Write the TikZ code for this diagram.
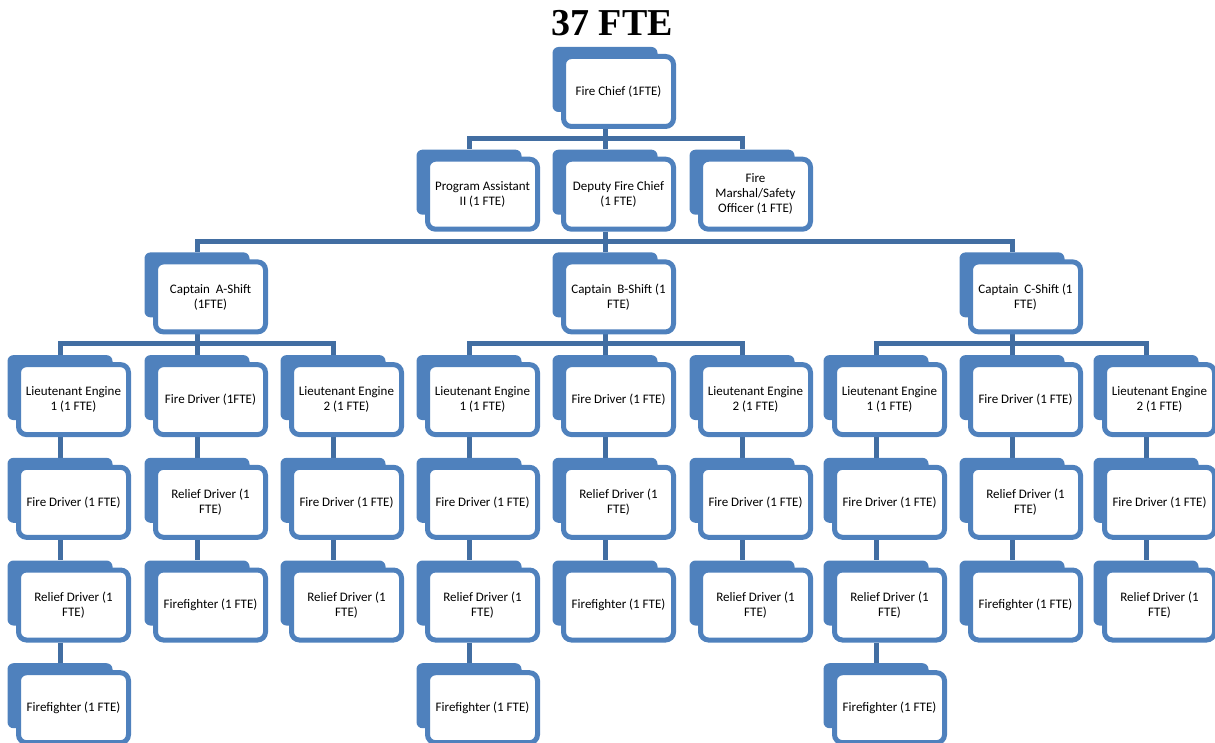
\documentclass[tikz,border=0pt]{standalone}
\usepackage{fontspec}
\setmainfont{Carlito}
\newfontfamily\titlefont{Liberation Serif}
\definecolor{boxblue}{RGB}{79,129,189}
\definecolor{linkblue}{RGB}{66,110,162}
\pgfdeclarelayer{bg}
\pgfsetlayers{bg,main}
\tikzset{
  backbox/.style={fill=boxblue, draw=none, rounded corners=6pt, minimum width=105pt, minimum height=65pt, inner sep=0pt},
  frontbox/.style={fill=white, draw=boxblue, line width=5pt, rounded corners=8pt, minimum width=110pt, minimum height=70pt, inner sep=1pt, align=center, font=\fontsize{13}{15}\selectfont},
  conn/.style={draw=linkblue, line width=5pt},
  titlestyle/.style={font=\titlefont\bfseries\fontsize{38}{40}\selectfont, anchor=base, inner sep=0pt}
}
\newcommand{\obox}[4]{%
  \node[backbox] (#1b) at (#2, #3+32.5) {};
  \node[frontbox] (#1) at (#2+13.5, #3+44.5) {#4};
}
\newcommand{\oconn}[2]{%
  \begin{pgfonlayer}{bg}
  \draw[conn] (#1b.center |- #1.south) |- ([yshift=11pt]#2b.north) -- (#2b.north);
  \end{pgfonlayer}
}
\begin{document}
\begin{tikzpicture}[x=1pt, y=-1pt]
\useasboundingbox (0,0) rectangle (1215,743);
\node[titlestyle] (title) at (612,36) {37 FTE};
% row 1
\obox{chief}{605}{47}{Fire Chief (1FTE)}
% row 2
\obox{pa}{469}{149.7}{Program Assistant\\II (1 FTE)}
\obox{dep}{605}{149.7}{Deputy Fire Chief\\(1 FTE)}
\obox{fm}{742}{149.7}{Fire\\Marshal/Safety\\Officer (1 FTE)}
% row 3
\obox{capA}{197}{252.4}{Captain\ \ A-Shift\\(1FTE)}
\obox{capB}{605}{252.4}{Captain\ \ B-Shift (1\\FTE)}
\obox{capC}{1012}{252.4}{Captain\ \ C-Shift (1\\FTE)}
% row 4
\obox{a1}{60}{355.1}{Lieutenant Engine\\1 (1 FTE)}
\obox{a2}{197}{355.1}{Fire Driver (1FTE)}
\obox{a3}{333}{355.1}{Lieutenant Engine\\2 (1 FTE)}
\obox{b1}{469}{355.1}{Lieutenant Engine\\1 (1 FTE)}
\obox{b2}{605}{355.1}{Fire Driver (1 FTE)}
\obox{b3}{742}{355.1}{Lieutenant Engine\\2 (1 FTE)}
\obox{c1}{876}{355.1}{Lieutenant Engine\\1 (1 FTE)}
\obox{c2}{1012}{355.1}{Fire Driver (1 FTE)}
\obox{c3}{1146}{355.1}{Lieutenant Engine\\2 (1 FTE)}
% row 5
\obox{a1x}{60}{457.8}{Fire Driver (1 FTE)}
\obox{a2x}{197}{457.8}{Relief Driver (1\\FTE)}
\obox{a3x}{333}{457.8}{Fire Driver (1 FTE)}
\obox{b1x}{469}{457.8}{Fire Driver (1 FTE)}
\obox{b2x}{605}{457.8}{Relief Driver (1\\FTE)}
\obox{b3x}{742}{457.8}{Fire Driver (1 FTE)}
\obox{c1x}{876}{457.8}{Fire Driver (1 FTE)}
\obox{c2x}{1012}{457.8}{Relief Driver (1\\FTE)}
\obox{c3x}{1146}{457.8}{Fire Driver (1 FTE)}
% row 6
\obox{a1y}{60}{560.5}{Relief Driver (1\\FTE)}
\obox{a2y}{197}{560.5}{Firefighter (1 FTE)}
\obox{a3y}{333}{560.5}{Relief Driver (1\\FTE)}
\obox{b1y}{469}{560.5}{Relief Driver (1\\FTE)}
\obox{b2y}{605}{560.5}{Firefighter (1 FTE)}
\obox{b3y}{742}{560.5}{Relief Driver (1\\FTE)}
\obox{c1y}{876}{560.5}{Relief Driver (1\\FTE)}
\obox{c2y}{1012}{560.5}{Firefighter (1 FTE)}
\obox{c3y}{1146}{560.5}{Relief Driver (1\\FTE)}
% row 7
\obox{a1z}{60}{663.2}{Firefighter (1 FTE)}
\obox{b1z}{469}{663.2}{Firefighter (1 FTE)}
\obox{c1z}{876}{663.2}{Firefighter (1 FTE)}
% connectors
\oconn{chief}{pa}\oconn{chief}{dep}\oconn{chief}{fm}
\oconn{dep}{capA}\oconn{dep}{capB}\oconn{dep}{capC}
\oconn{capA}{a1}\oconn{capA}{a2}\oconn{capA}{a3}
\oconn{capB}{b1}\oconn{capB}{b2}\oconn{capB}{b3}
\oconn{capC}{c1}\oconn{capC}{c2}\oconn{capC}{c3}
\oconn{a1}{a1x}\oconn{a2}{a2x}\oconn{a3}{a3x}
\oconn{b1}{b1x}\oconn{b2}{b2x}\oconn{b3}{b3x}
\oconn{c1}{c1x}\oconn{c2}{c2x}\oconn{c3}{c3x}
\oconn{a1x}{a1y}\oconn{a2x}{a2y}\oconn{a3x}{a3y}
\oconn{b1x}{b1y}\oconn{b2x}{b2y}\oconn{b3x}{b3y}
\oconn{c1x}{c1y}\oconn{c2x}{c2y}\oconn{c3x}{c3y}
\oconn{a1y}{a1z}\oconn{b1y}{b1z}\oconn{c1y}{c1z}
\end{tikzpicture}
\end{document}
